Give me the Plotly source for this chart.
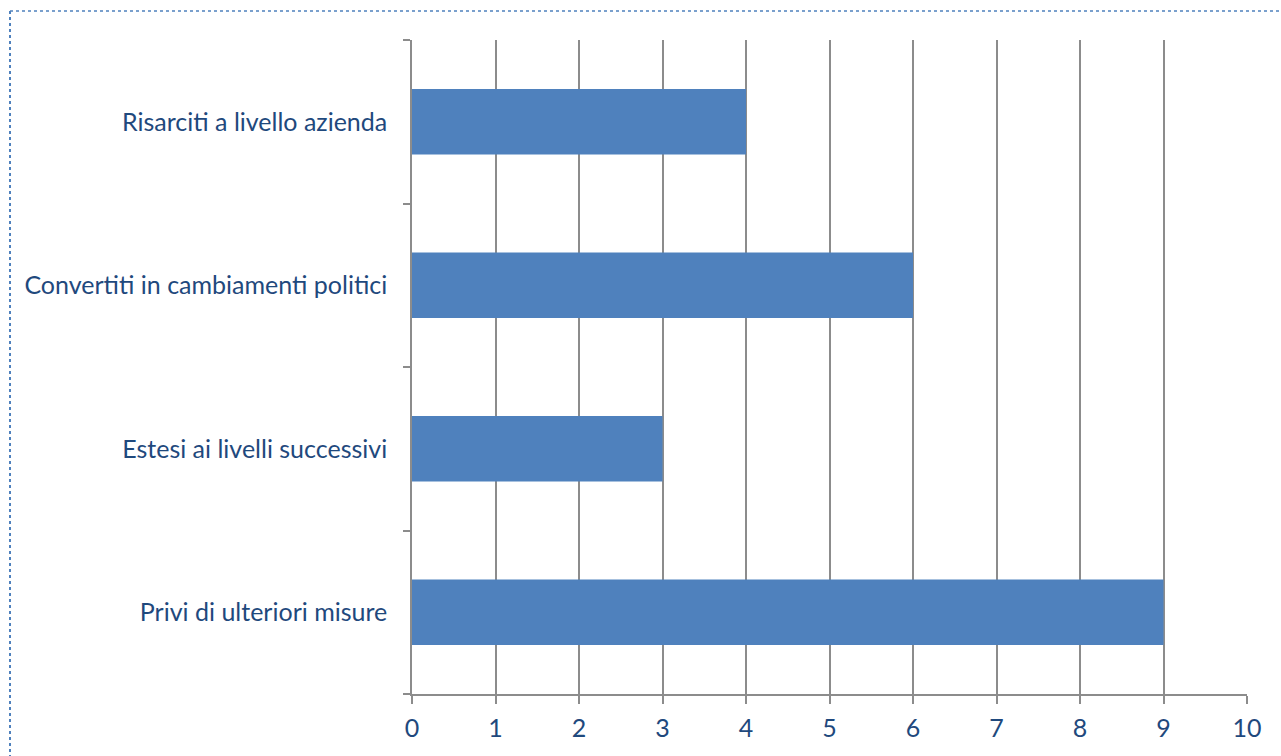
import plotly.graph_objects as go

categories = ["Privi di ulteriori misure", "Estesi ai livelli successivi",
              "Convertiti in cambiamenti politici", "Risarciti a livello azienda"]
values = [9, 3, 6, 4]
x_ticks = list(range(0, 11))

W, H = 1281, 756
L, R, T, B = 412, 34, 40, 62
pw, ph = W - L - R, H - T - B

text_color = "#1F497D"
grid_color = "#8C8C8C"

fig = go.Figure(go.Bar(
    x=values, y=categories, orientation="h",
    marker=dict(color="#4F81BD", line=dict(width=0)),
    width=0.4,
))

fig.update_layout(
    width=W, height=H,
    margin=dict(l=L, r=R, t=T, b=B, pad=0),
    paper_bgcolor="white", plot_bgcolor="white",
    font=dict(family="Lato, Liberation Sans, sans-serif", size=25, color=text_color),
    showlegend=False,
    bargap=0.6,
    xaxis=dict(
        range=[0, 10], tickvals=x_ticks, ticktext=[str(v) for v in x_ticks],
        showgrid=True, gridcolor=grid_color, gridwidth=1.5,
        showline=True, linecolor=grid_color, linewidth=1.5,
        ticks="outside", ticklen=8, tickcolor=grid_color, tickwidth=1.5,
        ticklabelstandoff=3, zeroline=False, fixedrange=True,
    ),
    yaxis=dict(
        type="category", categoryorder="array", categoryarray=categories,
        tickson="boundaries", ticks="outside", ticklen=7,
        tickcolor=grid_color, tickwidth=1.5,
        showgrid=False, showline=True, linecolor=grid_color, linewidth=1.5,
        ticklabelstandoff=18, fixedrange=True,
    ),
)

# dotted chart-area border (top and left visible)
x0 = (10 - L) / pw
x1 = (W + 5 - L) / pw
y_top = 1 + (T - 11) / ph
y_bot = 1 + (T - (H + 5)) / ph
fig.add_shape(type="line", xref="paper", yref="paper", x0=x0, x1=x1, y0=y_top, y1=y_top,
              line=dict(color="#4F81BD", width=1.5, dash="dot"))
fig.add_shape(type="line", xref="paper", yref="paper", x0=x0, x1=x0, y0=y_top, y1=y_bot,
              line=dict(color="#4F81BD", width=2, dash="dot"))

fig.write_html("out.html")
